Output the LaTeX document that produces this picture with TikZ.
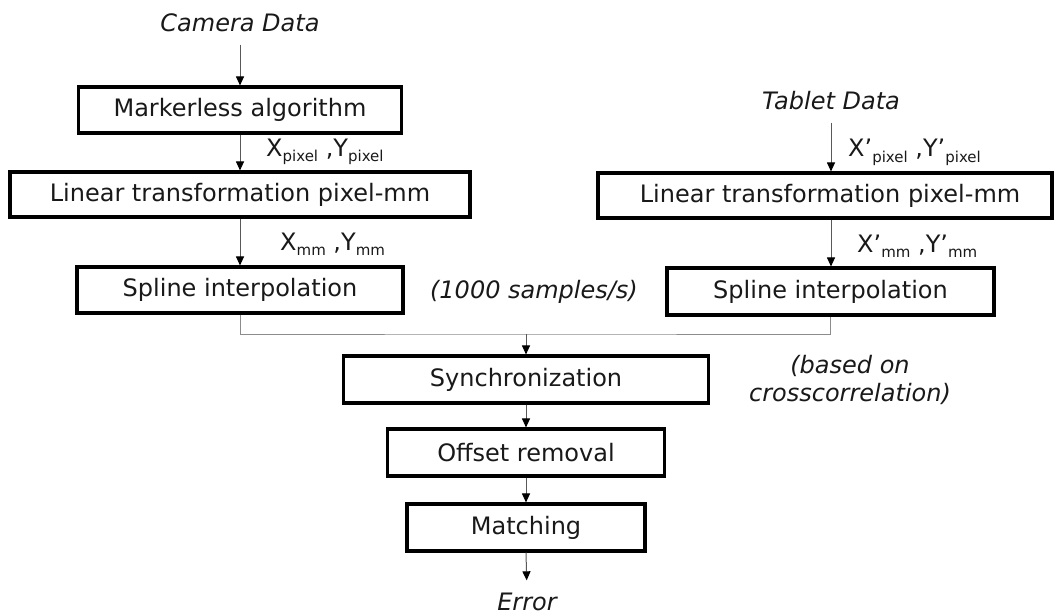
\documentclass[tikz,border=0pt]{standalone}
\usepackage{fontspec}
\setmainfont{DejaVu Sans}
\usetikzlibrary{arrows.meta}
% lowered index for coordinate labels
\newcommand\lowidx[1]{\raisebox{-0.22em}{\fontsize{15}{15}\selectfont #1}}
\begin{document}
\begin{tikzpicture}[x=1pt,y=-1pt,
  every node/.style={font=\fontsize{24}{28}\selectfont, text=black!90},
  stage/.style={draw=black, line width=3.1pt, inner sep=0pt, fill=white},
  note/.style={font=\fontsize{24}{28}\selectfont\itshape, inner sep=0pt},
  coord/.style={inner sep=0pt, anchor=base west},
  conn/.style={draw=black!65, line width=1pt},
  arr/.style={conn, -{Triangle[length=9pt,width=8pt,color=black]}}]
\useasboundingbox (0,0) rectangle (1054,615);

% camera branch
\node[note, anchor=base] (cam) at (240,32) {Camera Data};
\node[stage, minimum width=323pt, minimum height=46pt] (marker) at (240,110) {Markerless algorithm};
\node[stage, minimum width=460pt, minimum height=45pt] (linL) at (240,194.5) {Linear transformation pixel-mm};
\node[stage, minimum width=326pt, minimum height=46pt] (splL) at (240,290) {Spline interpolation};
\node[coord] (lblLp) at (266,156) {X\lowidx{pixel} ,Y\lowidx{pixel}};
\node[coord] (lblLm) at (280,250) {X\lowidx{mm} ,Y\lowidx{mm}};

% tablet branch
\node[note, anchor=base] (tab) at (831,110) {Tablet Data};
\node[stage, minimum width=454pt, minimum height=45pt] (linR) at (825,195.5) {\hspace{10pt}Linear transformation pixel-mm};
\node[stage, minimum width=327pt, minimum height=47pt] (splR) at (830.5,291.5) {Spline interpolation};
\node[coord] (lblRp) at (848,157) {X’\lowidx{pixel} ,Y’\lowidx{pixel}};
\node[coord] (lblRm) at (857,252) {X’\lowidx{mm} ,Y’\lowidx{mm}};

% common chain
\coordinate (join) at (526,334);
\node[stage, minimum width=365pt, minimum height=47pt] (sync) at (526,379.5) {Synchronization};
\node[stage, minimum width=277pt, minimum height=47pt] (offs) at (526,452.5) {Offset removal};
\node[stage, minimum width=238pt, minimum height=47pt] (match) at (526,527.5) {Matching};
\node[note, anchor=base] (err) at (527,610) {Error};

% side remarks
\node[note] (rate) at (534,292) {(1000 samples/s)};
\node[note, align=center] (xcorr) at (850,380) {(based on\\crosscorrelation)};

% connectors
\draw[arr, shorten <=12pt] (cam.south) -- (marker.north);
\draw[arr] (marker.south) -- (linL.north);
\draw[arr] (linL.south) -- (splL.north);
\draw[arr, shorten <=12pt] (tab.south) -- (tab.south |- linR.north);
\draw[arr] (tab.south |- linR.south) -- (tab.south |- splR.north);
\draw[conn, draw=black!45] (splL.south) |- (join) -| (splR.south);
\draw[arr] (join) -- (sync.north);
\draw[arr] (sync.south) -- (offs.north);
\draw[arr] (offs.south) -- (match.north);
\draw[arr, shorten >=12pt] (match.south) -- (err.north);
\end{tikzpicture}
\end{document}
